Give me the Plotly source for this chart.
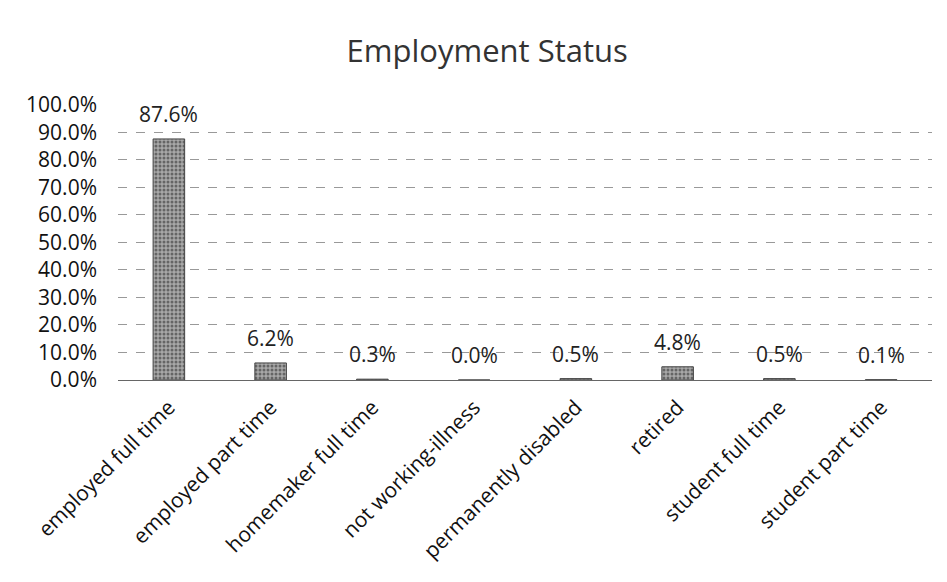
import plotly.graph_objects as go

categories = ["employed full time", "employed part time", "homemaker full time",
              "not working-illness", "permanently disabled", "retired",
              "student full time", "student part time"]
values = [87.6, 6.2, 0.3, 0.0, 0.5, 4.8, 0.5, 0.1]
tick_vals = [0, 10, 20, 30, 40, 50, 60, 70, 80, 90, 100]
tick_text = [f"{v:.1f}%" for v in tick_vals]

FONT = "Open Sans"

fig = go.Figure(go.Bar(
    x=categories,
    y=values,
    width=0.31,
    cliponaxis=False,
    marker=dict(
        color="#9a9a9a",
        line=dict(color="#444", width=1),
        pattern=dict(shape=".", fgcolor="#222", bgcolor="#a8a8a8", size=4, solidity=0.45),
    ),
))

for c, v in zip(categories, values):
    fig.add_annotation(x=c, y=v, text=f"{v:.1f}%", showarrow=False,
                       yanchor="bottom", yshift=9,
                       font=dict(family=FONT, size=21, color="#222"))

fig.update_layout(
    width=947, height=582,
    margin=dict(l=110, r=23, t=96, b=210),
    paper_bgcolor="white", plot_bgcolor="white",
    title=dict(text="Employment Status", x=0.506, xanchor="center", y=0.926, yanchor="middle",
               font=dict(family=FONT, size=31, color="#333")),
    showlegend=False,
    xaxis=dict(tickangle=-45, tickfont=dict(family=FONT, size=21, color="#111"),
               showline=False, ticks="", showgrid=False, automargin=False,
               ticklabelstandoff=10),
    yaxis=dict(range=[0, 100.3], tickvals=tick_vals, ticktext=tick_text,
               tickfont=dict(family=FONT, size=21, color="#111"),
               showgrid=True, gridcolor="#999", gridwidth=1, griddash="dash",
               zeroline=True, zerolinecolor="#666", zerolinewidth=1,
               ticks="", ticklabelstandoff=20, automargin=False),
)

fig.write_html("out.html")
